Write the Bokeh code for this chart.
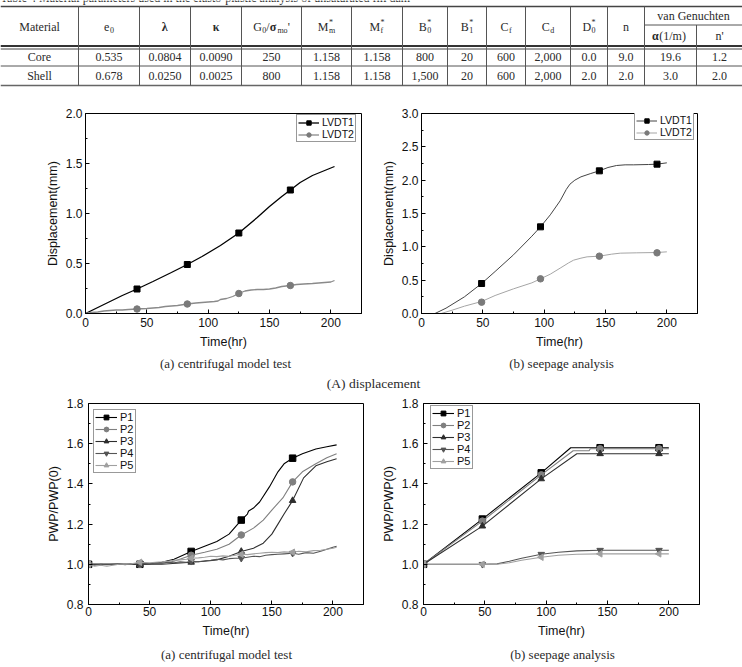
import math
from bokeh.plotting import figure
from bokeh.models import Range1d, FixedTicker, PrintfTickFormatter, Legend, LegendItem
from bokeh.layouts import column, row
from bokeh.core.properties import value
from bokeh.embed import file_html
from bokeh.resources import INLINE

# ---------------- table data ----------------
table_caption = "Table 4 Material parameters used in the elasto-plastic analysis of unsaturated fill dam"
materials = ["Core", "Shell"]
core_values = ["0.535", "0.0804", "0.0090", "250", "1.158", "1.158", "800", "20", "600",
               "2,000", "0.0", "9.0", "19.6", "1.2"]
shell_values = ["0.678", "0.0250", "0.0025", "800", "1.158", "1.158", "1,500", "20", "600",
                "2,000", "2.0", "2.0", "3.0", "2.0"]
header_pieces = [
    [("Material", "n")],
    [("e", "n"), ("0", "sub")],
    [("λ", "b")],
    [("κ", "b")],
    [("G", "n"), ("0", "sub"), ("/", "n"), ("σ", "b"), ("mo", "sub"), ("'", "n")],
    [("M", "n"), ("m", "sub"), ("*", "sup")],
    [("M", "n"), ("f", "sub"), ("*", "sup")],
    [("B", "n"), ("0", "sub"), ("*", "sup")],
    [("B", "n"), ("1", "sub"), ("*", "sup")],
    [("C", "n"), ("f", "sub")],
    [("C", "n"), ("d", "sub")],
    [("D", "n"), ("0", "sub"), ("*", "sup")],
    [("n", "n")],
    [("α", "b"), (" (1/m)", "n")],
    [("n'", "n")],
]
group_header = "van Genuchten"

# ---------------- chart data ----------------
# (A)(a) centrifugal model test - displacement
a_lvdt1_t = [0, 10, 20, 30, 42, 55, 70, 83, 95, 110, 125, 140, 150, 160, 167, 175, 185, 195, 203]
a_lvdt1_d = [0, 0.06, 0.12, 0.18, 0.245, 0.32, 0.41, 0.49, 0.57, 0.68, 0.805, 0.96, 1.07, 1.17,
             1.235, 1.31, 1.38, 1.43, 1.47]
a_lvdt1_mt = [42, 83, 125, 167]
a_lvdt1_md = [0.245, 0.49, 0.805, 1.235]
a_lvdt2_t = [0, 5, 10, 15, 20, 25, 30, 35, 42, 50, 55, 60, 65, 70, 75, 83, 90, 95, 100, 105, 108,
             110, 115, 120, 125, 130, 135, 140, 145, 150, 155, 160, 167, 172, 178, 185, 190, 195,
             200, 203]
a_lvdt2_d = [0, 0.01, 0.015, 0.025, 0.03, 0.035, 0.035, 0.04, 0.045, 0.05, 0.055, 0.06, 0.07,
             0.075, 0.08, 0.095, 0.105, 0.11, 0.115, 0.12, 0.125, 0.14, 0.15, 0.17, 0.20, 0.225,
             0.235, 0.24, 0.24, 0.245, 0.255, 0.27, 0.28, 0.29, 0.295, 0.30, 0.305, 0.31, 0.315, 0.33]
a_lvdt2_mt = [42, 83, 125, 167]
a_lvdt2_md = [0.045, 0.095, 0.20, 0.28]

# (A)(b) seepage analysis - displacement
b_lvdt1_t = [0, 5, 11, 20, 35, 49, 60, 75, 90, 97, 105, 113, 118, 121, 125, 130, 138, 145, 152,
             159, 166, 173, 185, 192, 200]
b_lvdt1_d = [0, 0, 0, 0.08, 0.25, 0.45, 0.63, 0.88, 1.16, 1.30, 1.48, 1.69, 1.86, 1.94, 2.0,
             2.05, 2.10, 2.14, 2.19, 2.22, 2.23, 2.23, 2.235, 2.24, 2.26]
b_lvdt1_mt = [49, 97, 145, 192]
b_lvdt1_md = [0.45, 1.30, 2.14, 2.24]
b_lvdt2_t = [0, 10, 16, 25, 35, 49, 60, 75, 90, 97, 105, 113, 120, 124, 130, 135, 145, 155, 162,
             175, 192, 200]
b_lvdt2_d = [0, 0, 0, 0.05, 0.11, 0.18, 0.27, 0.37, 0.46, 0.52, 0.59, 0.68, 0.76, 0.80, 0.83,
             0.85, 0.86, 0.89, 0.905, 0.91, 0.915, 0.925]
b_lvdt2_mt = [49, 97, 145, 192]
b_lvdt2_md = [0.17, 0.52, 0.86, 0.91]

# (B)(a) centrifugal model test - pore pressure ratio
c_p1_t = [0, 10, 20, 30, 42, 50, 60, 70, 84, 95, 105, 115, 125, 130, 131, 135, 140, 148, 155, 160,
          167, 175, 186, 195, 203]
c_p1_r = [1.0, 1.0, 1.0, 1.0, 1.0, 1.003, 1.01, 1.025, 1.064, 1.09, 1.113, 1.15, 1.22, 1.25,
          1.265, 1.28, 1.31, 1.385, 1.46, 1.50, 1.528, 1.55, 1.574, 1.585, 1.594]
c_p2_t = [0, 20, 42, 60, 70, 84, 95, 105, 115, 125, 135, 143, 150, 159, 167, 175, 186, 195, 203]
c_p2_r = [1.0, 1.0, 1.0, 1.005, 1.015, 1.045, 1.06, 1.075, 1.10, 1.146, 1.18, 1.22, 1.27, 1.33,
          1.41, 1.46, 1.50, 1.53, 1.55]
c_p3_t = [0, 20, 42, 60, 84, 95, 105, 115, 125, 135, 143, 150, 155, 160, 167, 176, 186, 195, 203]
c_p3_r = [1.0, 1.0, 1.0, 1.0, 1.01, 1.015, 1.022, 1.04, 1.064, 1.08, 1.105, 1.15, 1.20, 1.25,
          1.317, 1.43, 1.49, 1.51, 1.525]
c_p45_t = [0, 5, 10, 15, 20, 25, 30, 35, 42, 50, 55, 60, 65, 70, 75, 80, 84, 90, 95, 100, 105,
           110, 115, 120, 125, 130, 135, 140, 145, 150, 155, 160, 167, 172, 178, 184, 190, 195,
           200, 203]
c_p4_r = [1.0, 0.995, 1.0, 0.998, 1.0, 1.002, 0.998, 1.003, 1.005, 1.003, 1.008, 1.005, 1.01,
          1.008, 1.012, 1.01, 1.015, 1.013, 1.018, 1.02, 1.025, 1.022, 1.028, 1.03, 1.03, 1.035,
          1.04, 1.038, 1.045, 1.048, 1.05, 1.052, 1.055, 1.05, 1.058, 1.055, 1.065, 1.075, 1.085,
          1.09]
c_p5_r = [1.0, 0.99, 0.995, 0.99, 0.995, 1.0, 1.0, 1.002, 1.01, 1.008, 1.01, 1.012, 1.015, 1.02,
          1.022, 1.025, 1.03, 1.032, 1.035, 1.04, 1.038, 1.042, 1.04, 1.045, 1.05, 1.048, 1.052,
          1.055, 1.058, 1.06, 1.058, 1.062, 1.06, 1.065, 1.062, 1.068, 1.07, 1.075, 1.08, 1.085]
c_mark_t = [0, 42, 84, 125, 167]
c_p1_m = [1.0, 1.0, 1.064, 1.22, 1.528]
c_p2_m = [1.0, 1.0, 1.045, 1.146, 1.41]
c_p3_m = [1.0, 1.0, 1.01, 1.064, 1.317]
c_p4_m = [1.0, 1.005, 1.015, 1.03, 1.055]
c_p5_m = [1.0, 1.01, 1.03, 1.05, 1.06]

# (B)(b) seepage analysis - pore pressure ratio
d_p1_t = [0, 48, 96, 120, 144, 192, 200]
d_p1_r = [1.0, 1.225, 1.455, 1.58, 1.58, 1.58, 1.58]
d_p2_t = [0, 48, 96, 122, 135, 136, 144, 192, 200]
d_p2_r = [1.0, 1.215, 1.445, 1.565, 1.565, 1.575, 1.575, 1.575, 1.575]
d_p3_t = [0, 48, 96, 125, 144, 192, 200]
d_p3_r = [1.0, 1.19, 1.425, 1.55, 1.55, 1.55, 1.55]
d_p45_t = [0, 48, 60, 70, 80, 96, 110, 125, 144, 192, 200]
d_p4_r = [1.0, 1.0, 1.002, 1.015, 1.03, 1.05, 1.06, 1.067, 1.07, 1.07, 1.07]
d_p5_r = [1.0, 1.0, 1.0, 1.008, 1.02, 1.035, 1.045, 1.05, 1.052, 1.052, 1.052]
d_mark_t = [0, 48, 96, 144, 192]
d_p1_m = [1.0, 1.225, 1.455, 1.58, 1.58]
d_p2_m = [1.0, 1.215, 1.445, 1.575, 1.575]
d_p3_m = [1.0, 1.19, 1.425, 1.55, 1.55]
d_p4_m = [1.0, 1.0, 1.05, 1.07, 1.07]
d_p5_m = [1.0, 1.0, 1.035, 1.052, 1.052]

x_ticks = [0, 50, 100, 150, 200]
x_minor = [25, 75, 125, 175, 225]

SERIF = value("Liberation Serif")
SANS = "Liberation Sans"
TXT = "#2a2a2a"


def blank(width, height, x0, x1, y0, y1):
    p = figure(width=width, height=height, output_backend="svg", toolbar_location=None,
               x_range=Range1d(x0, x1), y_range=Range1d(y1, y0),
               x_axis_type=None, y_axis_type=None, min_border=0)
    p.outline_line_color = None
    p.grid.visible = False
    p.background_fill_color = "white"
    p.border_fill_color = "white"
    return p


# ---------------- table ----------------
CH = {"M": .89, "G": .72, "C": .67, "B": .67, "D": .72, "e": .44, "n": .5, "m": .78, "o": .5,
      "a": .44, "t": .28, "r": .33, "i": .28, "l": .28, "/": .28, "'": .18, "*": .5, "σ": .6,
      "λ": .55, "κ": .55, "α": .6, " ": .25, "(": .33, ")": .33, "f": .33, "d": .5, "0": .5,
      "1": .5}


def tw(s, size):
    return sum(CH.get(c, .5) for c in s) * size


def compose(cx, cy, pieces, fs=12, ss=8):
    items = []
    x = 0
    i = 0
    while i < len(pieces):
        t, st = pieces[i]
        if st in ("n", "b"):
            items.append((x, cy, t, st))
            x += tw(t, fs)
            i += 1
        else:
            w = 0
            while i < len(pieces) and pieces[i][1] in ("sub", "sup"):
                t, st = pieces[i]
                items.append((x + 0.5, cy + (3.5 if st == "sub" else -4), t, st))
                w = max(w, tw(t, ss))
                i += 1
            x += w + 0.5
    return [(cx - x / 2 + ix, iy, t, st) for ix, iy, t, st in items]


tbl = blank(742, 95, 0, 742, 0, 95)
col_edges = [0, 78, 139, 190, 241, 301, 351, 402, 447, 486, 525, 570, 607, 644, 696, 742]
centers = [(a + b) / 2 for a, b in zip(col_edges[:-1], col_edges[1:])]

# rules
tbl.segment(x0=[0], y0=[6], x1=[742], y1=[6], line_color="#444", line_width=1.3)
tbl.segment(x0=[0], y0=[45.5], x1=[742], y1=[45.5], line_color="#333", line_width=2)
tbl.segment(x0=[0], y0=[48.5], x1=[742], y1=[48.5], line_color="#444", line_width=1)
tbl.segment(x0=[0], y0=[65.5], x1=[742], y1=[65.5], line_color="#555", line_width=1)
tbl.segment(x0=[0], y0=[85], x1=[742], y1=[85], line_color="#666", line_width=1.5)
tbl.segment(x0=[644], y0=[24.5], x1=[742], y1=[24.5], line_color="#555", line_width=1)
vx = col_edges[1:-1]
tbl.segment(x0=[x for x in vx if x != 696], y0=[6] * (len(vx) - 1),
            x1=[x for x in vx if x != 696], y1=[85] * (len(vx) - 1), line_color="#555", line_width=1)
tbl.segment(x0=[696], y0=[24.5], x1=[696], y1=[85], line_color="#555", line_width=1)

tbl.text(x=[0], y=[4.5], text=[table_caption], text_font=SERIF, text_font_size="12px",
         text_baseline="bottom", text_align="left", text_color=TXT)

pieces_all = []
for k, pc in enumerate(header_pieces):
    cy = 26 if k < 13 else 35.5
    pieces_all += compose(centers[k], cy, pc)
for st, fs, style in [("n", "12px", "normal"), ("b", "12px", "bold"), ("sub", "8px", "normal"),
                      ("sup", "8px", "normal")]:
    sel = [it for it in pieces_all if it[3] == st]
    if sel:
        tbl.text(x=[s[0] for s in sel], y=[s[1] for s in sel], text=[s[2] for s in sel],
                 text_font=SERIF, text_font_size=fs, text_font_style=style,
                 text_align="left", text_baseline="middle", text_color=TXT)
tbl.text(x=[(644 + 742) / 2], y=[15], text=[group_header], text_font=SERIF, text_font_size="12px",
         text_align="center", text_baseline="middle", text_color=TXT)

rows_text, rows_x, rows_y = [], [], []
for r, (mat, vals) in enumerate(zip(materials, [core_values, shell_values])):
    y = 56 if r == 0 else 75.5
    rows_text += [mat] + vals
    rows_x += centers
    rows_y += [y] * len(centers)
tbl.text(x=rows_x, y=rows_y, text=rows_text, text_font=SERIF, text_font_size="12px",
         text_align="center", text_baseline="middle", text_color=TXT)


# ---------------- charts ----------------
def chart(width, height, bl, br, bt, bb, ymin, ymax, yticks, yminor, ylabel, xstand, ystand):
    p = figure(width=width, height=height, output_backend="svg", toolbar_location=None,
               x_range=Range1d(0, 225), y_range=Range1d(ymin, ymax),
               min_border_left=bl, min_border_right=br, min_border_top=bt, min_border_bottom=bb)
    p.grid.visible = False
    p.outline_line_color = "black"
    p.outline_line_width = 1
    p.background_fill_color = "white"
    p.border_fill_color = "white"
    p.xaxis.ticker = FixedTicker(ticks=x_ticks, minor_ticks=x_minor)
    p.yaxis.ticker = FixedTicker(ticks=yticks, minor_ticks=yminor)
    p.xaxis.formatter = PrintfTickFormatter(format="%d")
    p.yaxis.formatter = PrintfTickFormatter(format="%.1f")
    for ax in (p.xaxis[0], p.yaxis[0]):
        ax.axis_line_color = "black"
        ax.major_tick_in = 4
        ax.major_tick_out = 0
        ax.minor_tick_in = 2
        ax.minor_tick_out = 0
        ax.major_tick_line_color = "black"
        ax.minor_tick_line_color = "black"
        ax.major_label_text_font = SANS
        ax.major_label_text_font_size = "12px"
        ax.major_label_text_color = "#111"
        ax.axis_label_text_font = SANS
        ax.axis_label_text_font_size = "12.5px"
        ax.axis_label_text_font_style = "normal"
        ax.axis_label_text_color = "#111"
    p.xaxis.axis_label = "Time(hr)"
    p.yaxis.axis_label = ylabel
    p.xaxis.major_label_standoff = xstand
    p.xaxis.axis_label_standoff = 5
    p.yaxis.major_label_standoff = ystand
    p.yaxis.axis_label_standoff = 3
    return p


def legend(p, items, loc, lh, glyph_w, fs, label_w):
    lg = Legend(items=items, location=loc, label_height=lh, glyph_height=lh, glyph_width=glyph_w,
                spacing=0, padding=1, margin=0, label_standoff=3, label_width=label_w,
                label_text_font=SANS, label_text_font_size=fs, label_text_color="#111",
                border_line_color="#333", border_line_width=1, background_fill_alpha=1)
    p.add_layout(lg)


def series(p, t, v, mt, mv, lc, mc, marker, lw=1.1, size=6, angle=0.0):
    lr = p.line(t, v, line_color=lc, line_width=lw)
    sr = p.scatter(mt, mv, marker=marker, size=size, fill_color=mc, line_color=mc, angle=angle)
    return [lr, sr]


# (A)(a)
fa = chart(371, 257, 85, 10, 18, 39, 0, 2.0, [0, 0.5, 1.0, 1.5, 2.0],
           [0.25, 0.75, 1.25, 1.75], "Displacement(mm)", 4, 3)
r1 = series(fa, a_lvdt1_t, a_lvdt1_d, a_lvdt1_mt, a_lvdt1_md, "black", "black", "square", 1.3, 6)
r2 = series(fa, a_lvdt2_t, a_lvdt2_d, a_lvdt2_mt, a_lvdt2_md, "#8a8a8a", "#7a7a7a", "circle", 1.3, 6.5)
legend(fa, [LegendItem(label="LVDT1", renderers=r1), LegendItem(label="LVDT2", renderers=r2)],
       (211, 171), 11, 21, "10.5px", 20)

# (A)(b)
fb = chart(371, 257, 50, 45, 18, 39, 0, 3.0, [0, 0.5, 1.0, 1.5, 2.0, 2.5, 3.0],
           [0.25, 0.75, 1.25, 1.75, 2.25, 2.75], "Displacement(mm)", 4, 3)
s1 = series(fb, b_lvdt1_t, b_lvdt1_d, b_lvdt1_mt, b_lvdt1_md, "#444444", "black", "square", 1.0, 6)
s2 = series(fb, b_lvdt2_t, b_lvdt2_d, b_lvdt2_mt, b_lvdt2_md, "#a5a5a5", "#7a7a7a", "circle", 1.0, 6.5)
legend(fb, [LegendItem(label="LVDT1", renderers=s1), LegendItem(label="LVDT2", renderers=s2)],
       (213, 173), 11, 21, "10.5px", 20)

p_colors = ["#000000", "#7f7f7f", "#2e2e2e", "#555555", "#a0a0a0"]
p_markers = ["square", "circle", "triangle", "inverted_triangle", "triangle"]
p_angles = [0, 0, 0, 0, math.pi / 2]
p_labels = ["P1", "P2", "P3", "P4", "P5"]
yt = [0.8, 1.0, 1.2, 1.4, 1.6, 1.8]
ym = [0.9, 1.1, 1.3, 1.5, 1.7]

# (B)(a)
fc = chart(371, 245, 88, 8, 8, 35, 0.8, 1.8, yt, ym, "PWP/PWP(0)", 2, 5)
c_lines = [(c_p1_t, c_p1_r, c_p1_m), (c_p2_t, c_p2_r, c_p2_m), (c_p3_t, c_p3_r, c_p3_m),
           (c_p45_t, c_p4_r, c_p4_m), (c_p45_t, c_p5_r, c_p5_m)]
c_items = []
for k, (t, v, m) in enumerate(c_lines):
    rr = series(fc, t, v, c_mark_t, m, p_colors[k], p_colors[k], p_markers[k], 1.1, 6.5, p_angles[k])
    c_items.append(LegendItem(label=p_labels[k], renderers=rr))
legend(fc, c_items, (5, 131), 12, 22, "11px", 14)

# (B)(b)
fd = chart(371, 245, 52, 43, 8, 35, 0.8, 1.8, yt, ym, "PWP/PWP(0)", 2, 5)
d_lines = [(d_p1_t, d_p1_r, d_p1_m), (d_p2_t, d_p2_r, d_p2_m), (d_p3_t, d_p3_r, d_p3_m),
           (d_p45_t, d_p4_r, d_p4_m), (d_p45_t, d_p5_r, d_p5_m)]
d_items = []
for k, (t, v, m) in enumerate(d_lines):
    rr = series(fd, t, v, d_mark_t, m, p_colors[k], p_colors[k], p_markers[k], 1.1, 6.5, p_angles[k])
    d_items.append(LegendItem(label=p_labels[k], renderers=rr))
legend(fd, d_items, (7, 135), 12, 22, "11px", 14)

# ---------------- captions ----------------
cap1 = blank(742, 43, 0, 742, 352, 395)
cap1.text(x=[225, 561], y=[363, 363], text=["(a) centrifugal model test", "(b) seepage analysis"],
          text_font=SERIF, text_font_size="13px", text_align="center", text_baseline="middle",
          text_color=TXT)
cap1.text(x=[373], y=[382.5], text=["(A) displacement"], text_font=SERIF, text_font_size="13.5px",
          text_align="center", text_baseline="middle", text_color=TXT)

cap2 = blank(742, 27, 0, 742, 640, 667)
cap2.text(x=[226, 562], y=[653.5, 653.5], text=["(a) centrifugal model test", "(b) seepage analysis"],
          text_font=SERIF, text_font_size="13px", text_align="center", text_baseline="middle",
          text_color=TXT)
cap2.text(x=[373], y=[663.5], text=["(B) pore water pressure"], text_font=SERIF,
          text_font_size="13.5px", text_align="center", text_baseline="top", text_color=TXT)

layout = column(tbl, row(fa, fb, spacing=0), cap1, row(fc, fd, spacing=0), cap2, spacing=0)
open("out.html", "w").write(file_html(layout, INLINE))
